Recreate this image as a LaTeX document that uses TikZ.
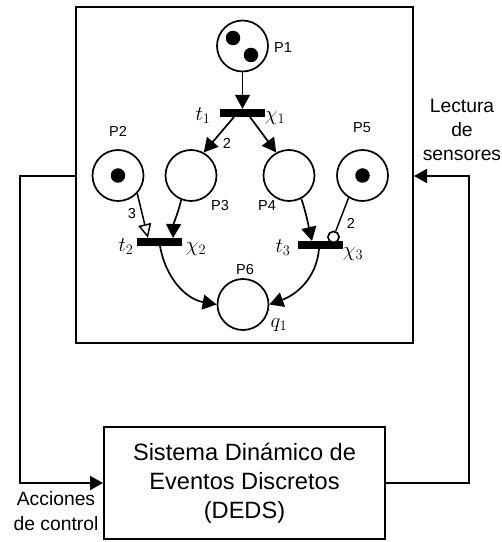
\documentclass[tikz,border=0pt]{standalone}
\usepackage[no-math]{fontspec}
\setmainfont{Liberation Sans}
\usetikzlibrary{arrows.meta}
\tikzset{
  x=1pt,y=1pt,
  place/.style={circle,draw=black,line width=1.7pt,minimum size=51pt,inner sep=0pt,fill=white},
  token/.style={circle,fill=black,minimum size=14.5pt,inner sep=0pt},
  bar/.style={rectangle,fill=black,minimum width=45pt,minimum height=8pt,inner sep=0pt},
  container/.style={rectangle,draw=black,line width=2pt,inner sep=0pt},
  inhib/.style={circle,draw=black,line width=1.5pt,minimum size=11pt,inner sep=0pt,fill=white},
  arc/.style={line width=1.7pt,-{Triangle[length=14pt,width=15pt]}},
  hollowarc/.style={line width=1.5pt,-{Triangle[open,length=14pt,width=13pt,fill=white]}},
  plainarc/.style={line width=1.5pt},
  flow/.style={line width=1.8pt},
  smalltxt/.style={font=\fontsize{14.5}{16}\selectfont,inner sep=0pt},
  labeltxt/.style={font=\fontsize{19.3}{24.3}\selectfont,inner sep=0pt,align=center},
  mathtxt/.style={font=\fontsize{20.7}{24}\selectfont,inner sep=0pt}
}
\begin{document}
\begin{tikzpicture}
\useasboundingbox (0,0) rectangle (502,542);
\node[container,minimum width=337pt,minimum height=336pt] (plant) at (244.5,367) {};
\node[container,minimum width=281pt,minimum height=112pt,font=\fontsize{23.6}{29}\selectfont,align=center] (deds) at (244.5,59) {Sistema Dinámico de\\Eventos Discretos\\(DEDS)};
\node[place] (P1) at (242.5,496) {};
\node[token] (k1) at (233,504) {};
\node[token] (k2) at (251,487) {};
\node[place] (P2) at (118,366.5) {};
\node[token] (k3) at (118,366.5) {};
\node[place] (P3) at (191,366.5) {};
\node[place] (P4) at (289,366.5) {};
\node[place] (P5) at (362.5,366.5) {};
\node[token] (k5) at (362.5,366.5) {};
\node[place] (P6) at (243,237.5) {};
\node[bar] (t1) at (242.5,429) {};
\node[bar] (t2) at (159.5,300) {};
\node[bar] (t3) at (320,297) {};
\node[inhib] (inh) at (333.5,305) {};
\draw[arc] (P1) -- (t1.north);
\coordinate (t1a) at (234,425);
\coordinate (t1b) at (250,425);
\draw[arc] (t1a) -- (P3.61);
\draw[arc] (t1b) -- (P4.119);
\coordinate (t2a) at (148,304);
\coordinate (t2b) at (173,304);
\draw[hollowarc] (P2.-43) -- (t2a);
\draw[arc] (P3.-112) to[out=-103,in=88] (t2b);
\coordinate (t3a) at (312,301);
\draw[arc] (P4.-62) to[out=-72,in=103] (t3a);
\draw[plainarc] (P5.-122) -- (inh);
\node[inhib] at (inh) {};
\coordinate (t2c) at (160,296);
\coordinate (t3c) at (319,293);
\draw[arc] (t2c) to[out=-80,in=170] (P6.west);
\draw[arc] (t3c) to[out=-95,in=20] (P6.east);
\node[smalltxt] (lP1) at (283,494) {P1};
\node[smalltxt] (lP2) at (118,411) {P2};
\node[smalltxt] (lP3) at (220,336) {P3};
\node[smalltxt] (lP4) at (267,336) {P4};
\node[smalltxt] (lP5) at (362,414) {P5};
\node[smalltxt] (lP6) at (245,272) {P6};
\node[smalltxt] (w1) at (227,399) {2};
\node[smalltxt] (w2) at (132,328) {3};
\node[smalltxt] (w3) at (351,319) {2};
\node[mathtxt] (lt1) at (203,426) {$t_1$};
\node[mathtxt] (lc1) at (275,424) {$\chi_1$};
\node[mathtxt] (lt2) at (126,295) {$t_2$};
\node[mathtxt] (lc2) at (196,293) {$\chi_2$};
\node[mathtxt] (lt3) at (283,294) {$t_3$};
\node[mathtxt] (lc3) at (353,288) {$\chi_3$};
\node[mathtxt] (lq1) at (279,217) {$q_1$};
\coordinate (ll) at (20,366);
\coordinate (lb) at (20,59);
\draw[flow,-{Triangle[length=13pt,width=14pt]}] (plant.west |- ll) -- (ll) -- (lb) -- (deds.west |- lb);
\coordinate (rr) at (469,59);
\coordinate (rt) at (469,366);
\draw[flow,-{Triangle[length=13pt,width=14pt]}] (deds.east |- rr) -- (rr) -- (rt) -- (plant.east |- rt);
\node[labeltxt] (act) at (56,31) {Acciones\\de control};
\node[labeltxt] (lec) at (462,412) {Lectura\\de\\sensores};
\end{tikzpicture}
\end{document}
